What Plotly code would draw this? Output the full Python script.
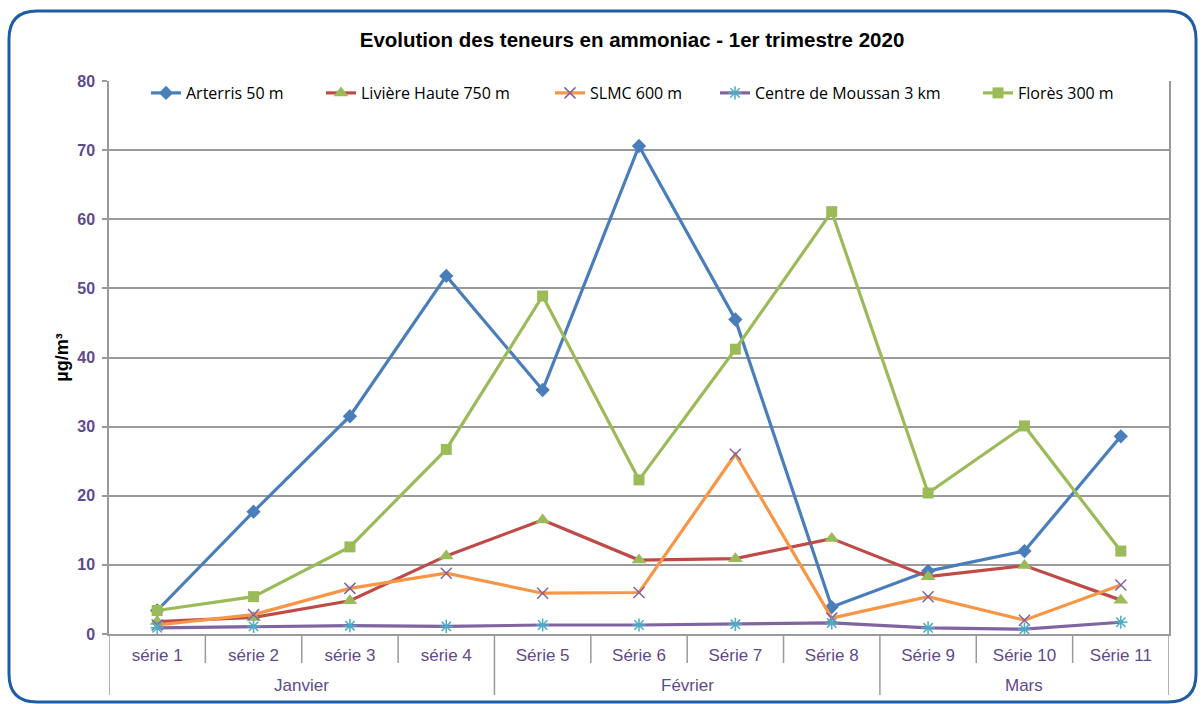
import plotly.graph_objects as go

months = ["Janvier"] * 4 + ["Février"] * 4 + ["Mars"] * 3
series_labels = ["série 1", "série 2", "série 3", "série 4", "Série 5", "Série 6",
                 "Série 7", "Série 8", "Série 9", "Série 10", "Série 11"]

arterris = [3.4, 17.7, 31.5, 51.8, 35.3, 70.6, 45.5, 3.9, 9.1, 12.0, 28.6]
liviere = [1.8, 2.4, 4.8, 11.3, 16.5, 10.7, 10.9, 13.8, 8.3, 9.9, 4.9]
slmc = [1.3, 2.8, 6.6, 8.8, 5.9, 6.0, 26.0, 2.3, 5.4, 2.0, 7.1]
moussan = [0.9, 1.1, 1.2, 1.1, 1.3, 1.3, 1.4, 1.6, 0.9, 0.7, 1.7]
flores = [3.4, 5.4, 12.6, 26.7, 48.9, 22.3, 41.2, 61.1, 20.4, 30.1, 12.0]

y_ticks = [0, 10, 20, 30, 40, 50, 60, 70, 80]

W, H = 1203, 704
ML, MR, MT, MB = 109, 34, 81, 70
PW, PH = W - ML - MR, H - MT - MB
GRID = "#9A9A9A"
PURPLE = "#5F4A8B"
ARIAL = "Liberation Sans, Arial, sans-serif"

def px(x):
    return (x - ML) / PW

def py(y):
    return (H - MB - y) / PH

traces = [
    ("Arterris 50 m", arterris, "#4A7EBB", dict(symbol="diamond", size=11, color="#4A7EBB"), 130),
    ("Livière Haute 750 m", liviere, "#BE4B48", dict(symbol="triangle-up", size=13, color="#9BBB59"), 184),
    ("SLMC 600 m", slmc, "#F79646", dict(symbol="x-thin-open", size=11, color="#8064A2",
                                         line=dict(color="#8064A2", width=1.5)), 120),
    ("Centre de Moussan 3 km", moussan, "#8064A2", dict(symbol="asterisk-open", size=11, color="#4BACC6",
                                                       line=dict(color="#4BACC6", width=1.5)), 218),
    ("Florès 300 m", flores, "#9BBB59", dict(symbol="square", size=11, color="#9BBB59"), 110),
]

fig = go.Figure()
for name, vals, lc, mk, lw in traces:
    fig.add_trace(go.Scatter(x=series_labels, y=vals, name=name, mode="lines+markers",
                             line=dict(color=lc, width=3.2), marker=mk, legendwidth=lw))

shapes = []
# rounded border
x0, x1, y0, y1, r = 9, 1196, 11, 702, 28
path = (f"M {px(x0 + r)},{py(y0)} L {px(x1 - r)},{py(y0)} "
        f"Q {px(x1)},{py(y0)} {px(x1)},{py(y0 + r)} "
        f"L {px(x1)},{py(y1 - r)} Q {px(x1)},{py(y1)} {px(x1 - r)},{py(y1)} "
        f"L {px(x0 + r)},{py(y1)} Q {px(x0)},{py(y1)} {px(x0)},{py(y1 - r)} "
        f"L {px(x0)},{py(y0 + r)} Q {px(x0)},{py(y0)} {px(x0 + r)},{py(y0)} Z")
shapes.append(dict(type="path", xref="paper", yref="paper", path=path,
                   line=dict(color="#1F5CA3", width=3), layer="above"))

# category boundary ticks and month dividers
n = len(series_labels)
boundaries = [0] + [i for i in range(1, n) if months[i] != months[i - 1]] + [n]
for i in range(n + 1):
    long = i in boundaries
    shapes.append(dict(type="line", xref="x", yref="paper", x0=i - 0.5, x1=i - 0.5,
                       y0=0, y1=py(695 if long else 663),
                       line=dict(color=GRID, width=1.5), layer="below"))

annotations = []
for a, b in zip(boundaries[:-1], boundaries[1:]):
    annotations.append(dict(x=(a + b - 1) / 2, y=py(685), xref="x", yref="paper",
                            text=months[a], showarrow=False, yanchor="middle",
                            font=dict(size=17, color=PURPLE, family=ARIAL)))

fig.update_layout(
    width=W, height=H,
    margin=dict(l=ML, r=MR, t=MT, b=MB, autoexpand=False),
    paper_bgcolor="white", plot_bgcolor="white",
    font=dict(family=ARIAL, color=PURPLE),
    title=dict(text="<b>Evolution des teneurs en ammoniac - 1er trimestre 2020</b>",
               x=px(632), xanchor="center", xref="paper", y=1 - 40 / H, yanchor="middle",
               font=dict(size=20.5, color="black", family=ARIAL)),
    showlegend=True,
    legend=dict(orientation="h", x=px(146), xanchor="left", y=py(93), yanchor="middle",
                font=dict(size=16, color="black", family="Open Sans, sans-serif"),
                bgcolor="rgba(0,0,0,0)", tracegroupgap=0),
    shapes=shapes,
    annotations=annotations,
    xaxis=dict(type="category", range=[-0.5, n - 0.5], showline=True, linecolor=GRID,
               linewidth=1.5, ticks="", showgrid=False, ticklabelstandoff=5,
               tickfont=dict(size=17, color=PURPLE)),
    yaxis=dict(range=[0, 80], tickvals=y_ticks, showgrid=True, gridcolor=GRID, gridwidth=1.5,
               showline=True, linecolor=GRID, linewidth=1.5, mirror=True,
               ticks="outside", ticklen=5, tickcolor=GRID, tickwidth=1.5, zeroline=False,
               ticklabelstandoff=4,
               tickfont=dict(size=16, color=PURPLE, family=ARIAL, weight="bold"),
               title=dict(text="<b>µg/m³</b>", font=dict(size=18, color="black"), standoff=4)),
)

fig.write_html("out.html", config={"displayModeBar": False},
               post_script="document.body.style.margin='0';document.body.style.overflow='hidden';")
